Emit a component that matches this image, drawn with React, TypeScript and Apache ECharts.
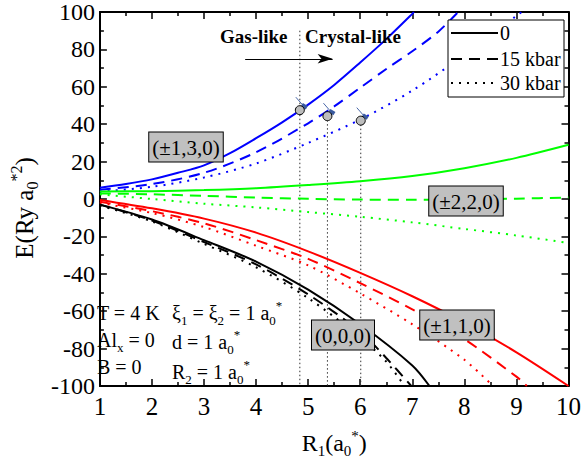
import React, { useEffect, useRef } from "react";
import * as echarts from "echarts";

// ---------- data (x = R1 in a0*, y = E in Ry a0*^2) ----------
const blueSolid = [[1, 6], [1.5, 8], [2, 10.5], [2.5, 14], [3, 18], [3.5, 24.5], [4, 32.5], [4.5, 41], [5, 50.5], [5.5, 61], [6, 73], [6.5, 85.5], [7, 99], [7.03, 100]];
const blueDashed = [[1, 5], [2, 8], [3, 14], [4, 25], [5, 40.5], [5.5, 49.5], [6, 59.5], [6.5, 69.5], [7, 79], [7.5, 89.5], [7.88, 100]];
const blueDotted = [[1, 4], [2, 6.5], [3, 11.5], [4, 19], [5, 30], [6, 42.5], [7, 58], [8, 77], [9, 98], [9.1, 100]];

const greenSolid = [[1, 4], [2, 4.2], [3, 4.8], [4, 5.8], [5, 7.5], [6, 9.5], [7, 12.3], [8, 16.5], [9, 22], [10, 29]];
const greenDashed = [[1, 3], [2, 2.5], [3, 1.7], [4, 0.8], [5, 0.1], [6, -0.3], [7, -0.4], [8, -0.2], [9, 0.2], [10, 0.8]];
const greenDotted = [[1, 2.5], [2, 0], [3, -2.5], [4, -4.5], [5, -7], [6, -9.5], [7, -12.5], [8, -16], [9, -19.5], [10, -23.5]];

const redSolid = [[1, -0.5], [2, -5], [3, -10.5], [4, -18], [5, -28], [6, -39.5], [7, -52], [8, -66], [9, -82], [10, -100]];
const redDashed = [[1, -1.5], [2, -6.5], [3, -13], [4, -22], [5, -32], [6, -45], [7, -59], [8, -75], [9, -95], [9.2, -100]];
const redDotted = [[1, -2], [2, -7.5], [3, -15], [4, -25], [5, -35.5], [6, -50.5], [7, -67], [8, -86], [8.55, -100]];

const blackSolid = [[1, -3], [2, -11], [3, -22], [4, -33.5], [5, -48.5], [6, -67], [7, -89], [7.33, -100]];
const blackDashed = [[1, -3], [2, -11.5], [3, -23], [4, -35], [5, -51], [6, -71], [6.5, -85], [6.98, -100]];
const blackDotted = [[1, -3.5], [2, -12], [3, -24], [4, -36.5], [5, -53], [6, -74], [6.5, -87], [6.85, -100]];

const markerPoints = [[4.84, 47.5], [5.37, 44.3], [6.01, 41.9]];
const guideTops = [90, 44.3, 41.9];
const transitionArrow = [[3.79, 75], [5.47, 75]];

const legendNames = ["0", "15 kbar", "30 kbar"];

const FONT = "Liberation Serif";

const dashFor = (kind: string): any =>
  kind === "solid" ? "solid" : kind === "dashed" ? [11, 7] : [2, 6];

function curve(data: number[][], color: string, kind: string) {
  return {
    type: "line",
    data,
    smooth: 0.3,
    showSymbol: false,
    symbol: "none",
    clip: true,
    silent: true,
    z: 3,
    lineStyle: { color, width: 2, type: dashFor(kind) },
  };
}

const richBase = {
  sub: { fontSize: 13, lineHeight: 12, verticalAlign: "bottom", fontFamily: FONT, fill: "#000", color: "#000" },
  sup: { fontSize: 13, lineHeight: 12, verticalAlign: "top", fontFamily: FONT, fill: "#000", color: "#000" },
};

function txt(x: number, y: number, text: string, opts: any = {}) {
  return {
    type: "text",
    z: 20,
    style: {
      x,
      y,
      text,
      fill: "#000",
      fontFamily: FONT,
      fontSize: opts.size || 20,
      fontWeight: opts.weight || "normal",
      align: opts.align || "left",
      verticalAlign: "middle",
      textAlign: opts.align || "left",
      textVerticalAlign: "middle",
      lineHeight: 28,
      rich: richBase,
      ...(opts.box
        ? { backgroundColor: "#c0c0c0", borderColor: "#000", borderWidth: 1, padding: [1, 3, 0, 3] }
        : {}),
    },
  };
}

export default function App() {
  const ref = useRef<HTMLDivElement>(null);
  useEffect(() => {
    if (!ref.current) return;
    const chart = echarts.init(ref.current, undefined, { renderer: "svg" });

    const axisCommon = {
      type: "value",
      axisLine: { show: true, onZero: false, lineStyle: { color: "#000", width: 2 } },
      axisTick: { show: true, inside: true, length: 7, lineStyle: { color: "#000", width: 1.5 } },
      minorTick: { show: true, splitNumber: 2, length: 4, lineStyle: { color: "#000", width: 1.5 } },
      splitLine: { show: false },
      minorSplitLine: { show: false },
    };

    const series: any[] = [
      curve(blueSolid, "#0000ff", "solid"),
      curve(blueDashed, "#0000ff", "dashed"),
      curve(blueDotted, "#0000ff", "dotted"),
      curve(greenSolid, "#00ff00", "solid"),
      curve(greenDashed, "#00ff00", "dashed"),
      curve(greenDotted, "#00ff00", "dotted"),
      curve(redSolid, "#ff0000", "solid"),
      curve(redDashed, "#ff0000", "dashed"),
      curve(redDotted, "#ff0000", "dotted"),
      curve(blackSolid, "#000000", "solid"),
      curve(blackDashed, "#000000", "dashed"),
      curve(blackDotted, "#000000", "dotted"),
    ];

    markerPoints.forEach((p, i) => {
      series.push({
        type: "line",
        data: [[p[0], guideTops[i]], [p[0], -100]],
        showSymbol: false,
        symbol: "none",
        silent: true,
        z: 2,
        lineStyle: { color: "#333", width: 1, type: [1.5, 2.5] },
        markLine:
          i === 0
            ? {
                silent: true,
                symbol: ["none", "arrow"],
                symbolSize: [7, 15],
                label: { show: false },
                lineStyle: { color: "#000", width: 1, type: "solid" },
                data: [[{ coord: transitionArrow[0] }, { coord: transitionArrow[1] }]],
              }
            : undefined,
      });
    });

    series.push({
      type: "custom",
      data: markerPoints,
      z: 10,
      silent: true,
      renderItem: (params: any, api: any) => {
        const c = api.coord([api.value(0), api.value(1)]);
        return {
          type: "group",
          children: [
            {
              type: "line",
              shape: { x1: c[0] - 4, y1: c[1] - 13, x2: c[0] + 3, y2: c[1] - 5 },
              style: { stroke: "#4a68a8", lineWidth: 1 },
            },
            {
              type: "line",
              shape: { x1: c[0] + 2, y1: c[1] - 5.5, x2: c[0] + 7, y2: c[1] - 2.5 },
              style: { stroke: "#3a5a9e", lineWidth: 4 },
            },
            {
              type: "circle",
              shape: { cx: c[0], cy: c[1], r: 4.5 },
              style: { fill: "#bdbdbd", stroke: "#000", lineWidth: 1 },
            },
          ],
        };
      },
    });

    const legendKinds = ["solid", "dashed", "dotted"];
    const legendYs = [33, 59, 83];
    const legendGraphics: any[] = [
      {
        type: "rect",
        z: 19,
        shape: { x: 448, y: 20, width: 116, height: 77 },
        style: { fill: "#fff", stroke: "#000", lineWidth: 1 },
      },
    ];
    legendNames.forEach((n, i) => {
      legendGraphics.push({
        type: "line",
        z: 20,
        shape: { x1: 451, y1: legendYs[i], x2: 498, y2: legendYs[i] },
        style: { stroke: "#000", lineWidth: 2, lineDash: legendKinds[i] === "solid" ? null : dashFor(legendKinds[i]) },
      });
      legendGraphics.push(txt(500, legendYs[i], n, { size: 20 }));
    });

    chart.setOption({
      animation: false,
      backgroundColor: "#fff",
      grid: { left: 95, right: 11, top: 9, bottom: 72, containLabel: false },
      xAxis: [
        {
          ...axisCommon,
          min: 1,
          max: 10,
          interval: 1,
          position: "bottom",
          axisLabel: { color: "#000", fontFamily: FONT, fontSize: 25, margin: 8 },
          name: "R{sub|1}(a{sub|0}{sup|*})",
          nameLocation: "middle",
          nameGap: 42,
          nameTextStyle: {
            color: "#000",
            fontFamily: FONT,
            fontSize: 24,
            lineHeight: 30,
            rich: {
              sub: { fontSize: 15, lineHeight: 14, verticalAlign: "bottom", fontFamily: FONT, color: "#000" },
              sup: { fontSize: 15, lineHeight: 14, verticalAlign: "top", fontFamily: FONT, color: "#000" },
            },
          },
        },
        {
          ...axisCommon,
          min: 1,
          max: 10,
          interval: 1,
          position: "top",
          axisLabel: { show: false },
        },
      ],
      yAxis: [
        {
          ...axisCommon,
          min: -100,
          max: 100,
          interval: 20,
          position: "left",
          axisLabel: { color: "#000", fontFamily: FONT, fontSize: 24, margin: 5 },
          name: "E(Ry a{sub|0}{sup|*2})",
          nameLocation: "middle",
          nameGap: 52,
          nameRotate: 90,
          nameTextStyle: {
            color: "#000",
            fontFamily: FONT,
            fontSize: 25,
            lineHeight: 32,
            padding: [0, 18, 0, 0],
            rich: {
              sub: { fontSize: 16, lineHeight: 14, verticalAlign: "bottom", fontFamily: FONT, color: "#000" },
              sup: { fontSize: 16, lineHeight: 14, verticalAlign: "top", fontFamily: FONT, color: "#000" },
            },
          },
        },
        {
          ...axisCommon,
          min: -100,
          max: 100,
          interval: 20,
          position: "right",
          axisLabel: { show: false },
        },
      ],
      series,
      graphic: [
        txt(220, 36, "Gas-like", { size: 19, weight: "bold" }),
        txt(305, 36, "Crystal-like", { size: 19, weight: "bold" }),
        txt(186, 147, "(±1,3,0)", { size: 21, align: "center", box: true }),
        txt(466, 201, "(±2,2,0)", { size: 21, align: "center", box: true }),
        txt(343, 335, "(0,0,0)", { size: 21, align: "center", box: true }),
        txt(457, 325, "(±1,1,0)", { size: 21, align: "center", box: true }),
        txt(97, 313, "T = 4 K", { size: 20 }),
        txt(97, 340, "Al{sub|x} = 0", { size: 20 }),
        txt(97, 367, "B = 0", { size: 20 }),
        txt(172, 313, "ξ{sub|1} = ξ{sub|2} = 1 a{sub|0}{sup|*}", { size: 20 }),
        txt(172, 342, "d = 1 a{sub|0}{sup|*}", { size: 20 }),
        txt(172, 372, "R{sub|2} = 1 a{sub|0}{sup|*}", { size: 20 }),
        ...legendGraphics,
      ],
    });

    return () => chart.dispose();
  }, []);

  return <div ref={ref} style={{ width: 584, height: 463, position: "absolute", left: 0, top: 0 }} />;
}
